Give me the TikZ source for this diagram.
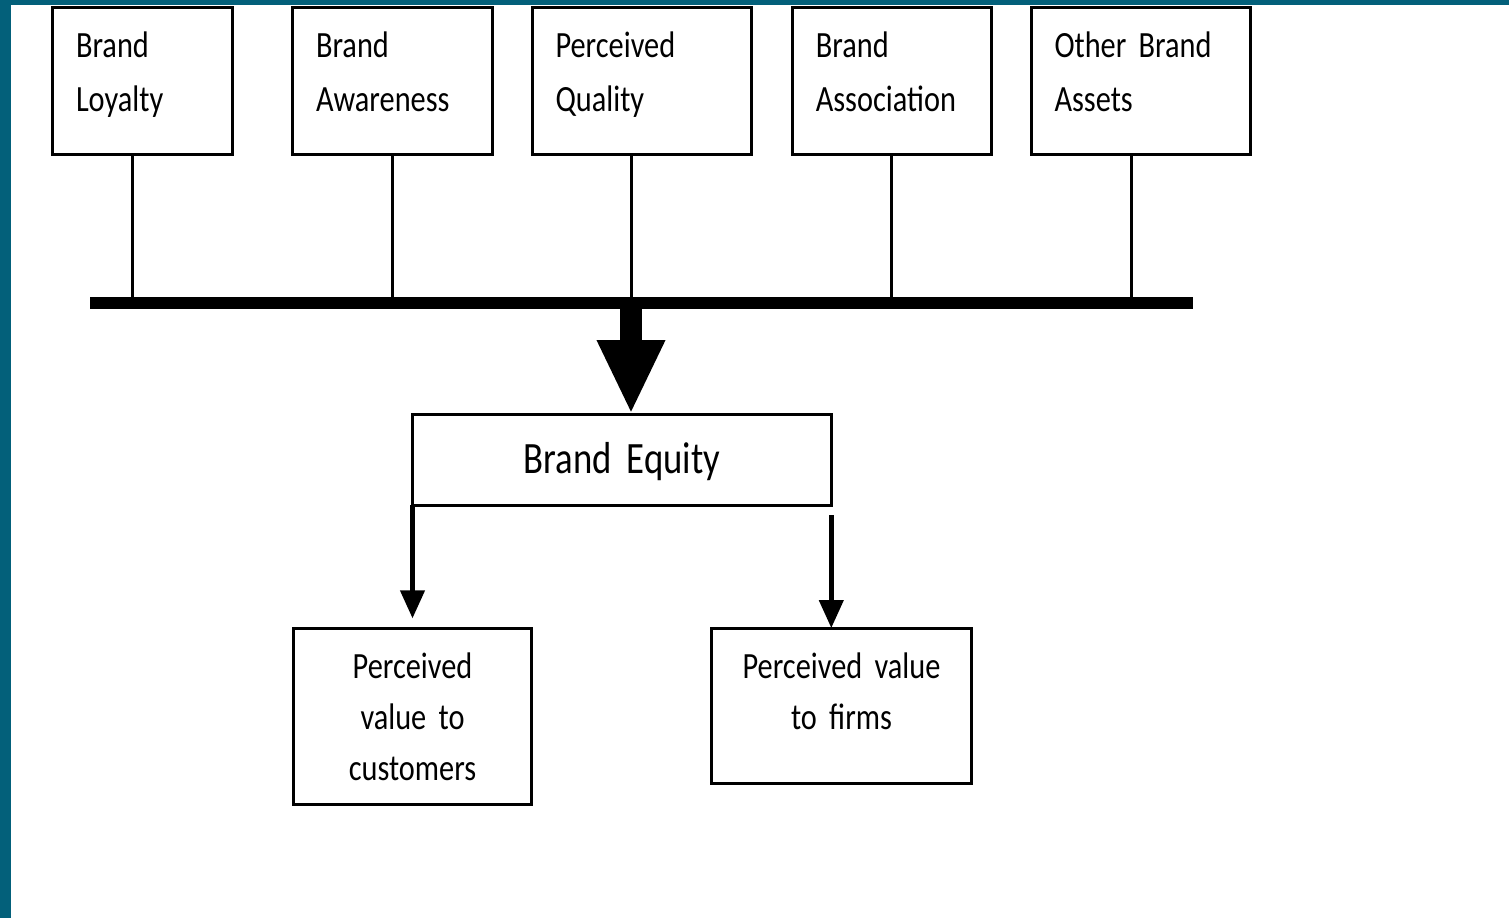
\documentclass[tikz,border=0pt]{standalone}
\usepackage{fontspec}
\newfontfamily\boxfont[FakeStretch=0.82,WordSpace=0.75]{Carlito}
\usetikzlibrary{arrows.meta}
\definecolor{frame}{HTML}{03607A}

\begin{document}
\begin{tikzpicture}[x=0.5pt,y=-0.5pt,
	asset/.style={draw,line width=1.5pt,anchor=north west,outer sep=0pt,inner ysep=0pt,inner xsep=11.75pt,align=left,text height=25.35pt,text depth=48.55pt,font=\boxfont\fontsize{18.5}{27}\selectfont},
	value/.style={draw,line width=1.5pt,anchor=north west,outer sep=0pt,inner sep=0pt,align=center,text height=25.3pt,font=\boxfont\fontsize{18.5}{25.5}\selectfont},
	link/.style={line width=1.5pt},
	bus/.style={line width=6pt},
	bigarrow/.style={line width=11pt,-{Triangle[length=37pt,width=31.5pt]}},
	thinarrow/.style={line width=2.2pt,-{Triangle[length=14pt,width=12pt]}}]
	\useasboundingbox (0,0) rectangle (1509,918);
	\fill[white] (0,0) rectangle (1509,918);
	\fill[frame] (0,0) rectangle (11,918);
	\fill[frame] (0,0) rectangle (1509,5);
	
	\node[asset,text width=66.5pt] (loyalty) at (52.5,7) {Brand\\Loyalty};
	\node[asset,text width=76.5pt] (awareness) at (292.5,7) {Brand\\Awareness};
	\node[asset,text width=86pt] (quality) at (532,7) {Perceived\\Quality};
	\node[asset,text width=76pt] (association) at (792.3,7) {Brand\\Association};
	\node[asset,text width=86pt] (assets) at (1031,7) {Other Brand\\Assets};
	
	\coordinate (busL) at (90,302.8);
	\coordinate (busR) at (1193,302.8);
	\draw[bus] (busL) -- (busR);
	\foreach \b/\x [count=\k] in {loyalty/132.5, awareness/392, quality/631, association/891, assets/1131}
	{
		\coordinate (j\k) at (\x,302.8);
		\draw[link] (\b.south -| j\k) -- (j\k);
	}
	
	\node[draw,line width=1.5pt,anchor=north west,outer sep=0pt,inner sep=0pt,align=center,text width=209.4pt,text height=29.65pt,text depth=15.85pt,font=\boxfont\fontsize{22.4}{27}\selectfont] (equity) at (412.5,414) {Brand Equity};
	\draw[bigarrow] (j3) -- (j3 |- equity.north);
	
	\node[value,text width=119.2pt,text depth=62.65pt] (custval) at (293.3,628.3) {Perceived\\value to\\customers};
	\node[value,text width=129.8pt,text depth=52.5pt] (firmval) at (711.7,628) {Perceived value\\to firms};
	
	\draw[thinarrow,shorten >=5pt] (equity.south west) -- (equity.south west |- custval.north);
	\draw[thinarrow,shorten <=5pt] (equity.south east) -- (equity.south east |- firmval.north);
\end{tikzpicture}
\end{document}
